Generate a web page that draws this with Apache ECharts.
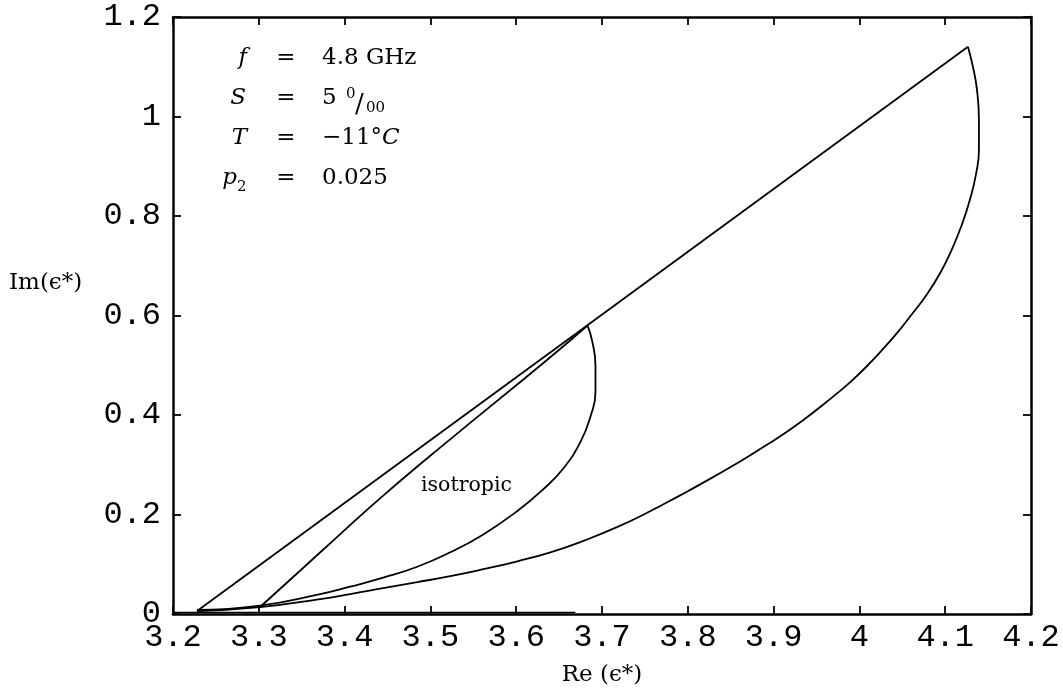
<!DOCTYPE html>
<html>
<head>
<meta charset="utf-8">
<script src="https://cdn.jsdelivr.net/npm/echarts@6/dist/echarts.min.js"></script>
<style>
  html, body { margin: 0; padding: 0; background: #fff; }
  #chart { width: 1063px; height: 692px; }
</style>
</head>
<body>
<div id="chart"></div>
<script>
// Complex permittivity of sea ice: Re(eps*) vs Im(eps*)
const xTicks = { min: 3.2, max: 4.2, step: 0.1 };
const yTicks = { min: 0, max: 1.2, step: 0.2 };

// upper straight bound
const upperBound = [[3.228, 0.006], [4.1265, 1.140]];

// outer curved bound
const outerCurve = [
  [4.1265, 1.140], [4.1323, 1.100], [4.1370, 1.054], [4.1393, 0.993], [4.1393, 0.933],
  [4.1358, 0.883], [4.1288, 0.833], [4.1195, 0.783], [4.1078, 0.733], [4.0950, 0.688],
  [4.0786, 0.642], [4.0600, 0.600], [4.0425, 0.562], [4.0250, 0.528], [4.0086, 0.498],
  [3.9900, 0.467], [3.9701, 0.438], [3.9316, 0.386], [3.8931, 0.341], [3.8534, 0.299],
  [3.8149, 0.261], [3.7916, 0.239], [3.7566, 0.207], [3.7181, 0.175], [3.6784, 0.147],
  [3.6399, 0.124], [3.6014, 0.106], [3.5617, 0.090], [3.5232, 0.076], [3.4847, 0.064],
  [3.4450, 0.052], [3.4065, 0.040], [3.3715, 0.030], [3.3015, 0.014], [3.228, 0.006]
];

// inner straight-ish bound
const innerBound = [
  [3.3015, 0.014], [3.350, 0.090], [3.387, 0.148], [3.445, 0.238],
  [3.523, 0.351], [3.632, 0.505], [3.6831, 0.580]
];

// isotropic curve
const isoCurve = [
  [3.6831, 0.580], [3.6889, 0.546], [3.6924, 0.498], [3.6924, 0.446], [3.6866, 0.397],
  [3.6749, 0.346], [3.6551, 0.293], [3.6317, 0.251], [3.6014, 0.207], [3.5617, 0.160],
  [3.5232, 0.124], [3.4847, 0.095], [3.4450, 0.073], [3.4065, 0.055], [3.3715, 0.040],
  [3.3015, 0.017], [3.228, 0.008]
];

// short zero line near the origin
const zeroLine = [[3.2, 0.003], [3.669, 0.003]];

const serif = '"DejaVu Serif", "Liberation Serif", serif';
const mono = '"Liberation Mono", "DejaVu Sans Mono", monospace';

const chart = echarts.init(document.getElementById('chart'), null, { renderer: 'canvas' });

function lineSeries(data, w, smooth) {
  return {
    type: 'line', data: data, showSymbol: false, symbol: 'none', smooth: smooth,
    lineStyle: { color: '#000', width: w }, animation: false, silent: true
  };
}

const axisCommon = {
  type: 'value',
  splitLine: { show: false },
  axisLine: { show: true, onZero: false, lineStyle: { color: '#000', width: 2.5 } },
  axisTick: { show: true, inside: true, length: 8, lineStyle: { color: '#000', width: 1.8 } }
};

const txt = (x, y, text, font, extra) => ({
  type: 'text', x: x, y: y,
  style: Object.assign({ text: text, font: font, fill: '#000', textVerticalAlign: 'bottom' }, extra || {})
});

const F = '23px ' + serif;
const FI = 'italic 23px ' + serif;
const FS = '15px ' + serif;

chart.setOption({
  backgroundColor: '#fff',
  animation: false,
  grid: { left: 173, top: 17, width: 858, height: 598 },
  xAxis: [
    Object.assign({}, axisCommon, {
      position: 'bottom', min: xTicks.min, max: xTicks.max, interval: xTicks.step,
      axisLabel: { color: '#000', fontFamily: mono, fontSize: 32, margin: 8 },
      name: 'Re (ϵ*)', nameLocation: 'middle', nameGap: 50,
      nameTextStyle: { color: '#000', fontFamily: serif, fontSize: 23 }
    }),
    Object.assign({}, axisCommon, {
      position: 'top', min: xTicks.min, max: xTicks.max, interval: xTicks.step,
      axisLabel: { show: false }
    })
  ],
  yAxis: [
    Object.assign({}, axisCommon, {
      position: 'left', min: yTicks.min, max: yTicks.max, interval: yTicks.step,
      axisLabel: { color: '#000', fontFamily: mono, fontSize: 32, margin: 12 }
    }),
    Object.assign({}, axisCommon, {
      position: 'right', min: yTicks.min, max: yTicks.max, interval: yTicks.step,
      axisLabel: { show: false }
    })
  ],
  series: [
    lineSeries(upperBound, 1.8, false),
    lineSeries(outerCurve, 1.8, 0.5),
    lineSeries(innerBound, 1.8, 0.5),
    lineSeries(isoCurve, 1.8, 0.5),
    lineSeries(zeroLine, 1.5, false)
  ],
  graphic: [
    { type: 'text', left: 9, top: 272, style: { text: 'Im(ϵ*)', font: '23px ' + serif, fill: '#000' } },
    { type: 'text', left: 421, top: 475, style: { text: 'isotropic', font: '20.5px ' + serif, fill: '#000' } },

    txt(247, 70, 'f', FI, { textAlign: 'right' }),
    txt(286, 70, '=', F, { textAlign: 'center' }),
    txt(322, 70, '4.8 GHz', F),

    txt(246, 110, 'S', FI, { textAlign: 'right' }),
    txt(286, 110, '=', F, { textAlign: 'center' }),
    txt(322, 110, '5', F),
    txt(346, 102, '0', FS),
    txt(355, 118, '/', '26px ' + serif),
    txt(366, 116, '00', FS),

    txt(247, 150, 'T', FI, { textAlign: 'right' }),
    txt(286, 150, '=', F, { textAlign: 'center' }),
    {
      type: 'text', x: 322, y: 150,
      style: {
        text: '{n|−11°}{i|C}', fill: '#000', textVerticalAlign: 'bottom',
        rich: { n: { font: F, fill: '#000' }, i: { font: FI, fill: '#000' } }
      }
    },

    txt(237, 190, 'p', FI, { textAlign: 'right' }),
    txt(237, 195, '2', FS),
    txt(286, 190, '=', F, { textAlign: 'center' }),
    txt(322, 190, '0.025', F)
  ]
});
</script>
</body>
</html>
